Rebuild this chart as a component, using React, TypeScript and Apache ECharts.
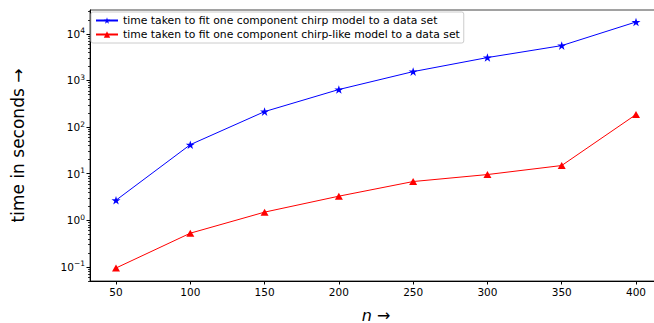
import { useEffect, useRef } from "react";
import * as echarts from "echarts";

// Problem sizes (number of samples n)
const sampleSizes = [50, 100, 150, 200, 250, 300, 350, 400];
// Seconds needed to fit a one-component chirp model
const chirpSeconds = [2.7, 42, 215, 640, 1550, 3100, 5600, 18000];
// Seconds needed to fit a one-component chirp-like model
const chirpLikeSeconds = [0.095, 0.53, 1.5, 3.3, 6.8, 9.6, 15, 186];

const seriesNames = [
  "time taken to fit one component chirp model to a data set",
  "time taken to fit one component chirp-like model to a data set",
];

const xTickValues = [50, 100, 150, 200, 250, 300, 350, 400];
const yMajorTickValues = [0.1, 1, 10, 100, 1000, 10000];

// minor log ticks: 2..9 × 10^k inside the visible range
const yMin = 0.05;
const yMax = 32500;
const yMinorTickValues: number[] = [];
for (let k = -2; k <= 4; k++) {
  for (let m = 2; m <= 9; m++) {
    const v = m * Math.pow(10, k);
    if (v >= yMin && v <= yMax) yMinorTickValues.push(v);
  }
}

const FONT = "DejaVu Sans";
const STAR =
  "path://M0,-10 L2.245,-3.09 L9.51,-3.09 L3.633,1.18 L5.88,8.09 L0,3.82 L-5.88,8.09 L-3.633,1.18 L-9.51,-3.09 L-2.245,-3.09 Z";

function powerLabel(value: number): string {
  const exp = Math.round(Math.log10(value));
  const txt = exp < 0 ? "\u2212" + Math.abs(exp) : String(exp);
  return "{b|10}{s|" + txt + "}";
}

export default function App() {
  const ref = useRef<HTMLDivElement>(null);

  useEffect(() => {
    if (!ref.current) return;
    const chart = echarts.init(ref.current, undefined, { renderer: "svg" });

    const pairs = (ys: number[]) => sampleSizes.map((x, i) => [x, ys[i]]);

    chart.setOption({
      animation: false,
      backgroundColor: "#ffffff",
      grid: {
        left: 90,
        top: 10,
        width: 572,
        height: 271,
        outerBoundsMode: "none",
        containLabel: false,
        show: true,
        borderColor: "#444",
        borderWidth: 1,
        backgroundColor: "transparent",
      },
      legend: {
        orient: "vertical",
        left: 91,
        top: 12,
        padding: [3, 4, 3, 4],
        itemGap: 3,
        itemWidth: 22,
        itemHeight: 8,
        itemTextGap: 9,
        backgroundColor: "rgba(255,255,255,0.8)",
        borderColor: "#cccccc",
        borderWidth: 1,
        borderRadius: 2,
        textStyle: { fontFamily: FONT, fontSize: 10.8, color: "#000" },
        data: seriesNames,
      },
      xAxis: {
        type: "value",
        min: 32.5,
        max: 417.5,
        splitNumber: 8,
        name: "{i|n}{a| \u2192}",
        nameLocation: "middle",
        nameGap: 26,
        nameTextStyle: {
          rich: {
            i: { fontFamily: FONT, fontSize: 16, fontStyle: "italic", color: "#000" },
            a: { fontFamily: FONT, fontSize: 16, color: "#000" },
          },
        },
        splitLine: { show: false },
        axisLine: { show: true, onZero: false, lineStyle: { color: "#000", width: 1 } },
        axisTick: {
          show: true,
          inside: false,
          length: 3.5,
          customValues: xTickValues,
          lineStyle: { color: "#000", width: 1 },
        },
        axisLabel: {
          customValues: xTickValues,
          fontFamily: FONT,
          fontSize: 10.5,
          color: "#000",
          margin: 5,
        },
      },
      yAxis: [
        {
          type: "log",
          logBase: 10,
          min: yMin,
          max: yMax,
          name: "time in seconds \u2192",
          nameLocation: "middle",
          nameGap: 64,
          nameTextStyle: { fontFamily: FONT, fontSize: 17, color: "#000" },
          splitLine: { show: false },
          axisLine: { show: true, onZero: false, lineStyle: { color: "#000", width: 1 } },
          axisTick: {
            show: true,
            length: 3.5,
            customValues: yMajorTickValues,
            lineStyle: { color: "#000", width: 1 },
          },
          axisLabel: {
            customValues: yMajorTickValues,
            margin: 5,
            formatter: (v: number) => powerLabel(v),
            rich: {
              b: { fontFamily: FONT, fontSize: 10.5, color: "#000" },
              s: { fontFamily: FONT, fontSize: 7.5, color: "#000", padding: [0, 0, 6, 0] },
            },
          },
        },
        {
          type: "log",
          logBase: 10,
          min: yMin,
          max: yMax,
          position: "left",
          splitLine: { show: false },
          axisLine: { show: false },
          axisLabel: { show: false },
          axisTick: {
            show: true,
            length: 2,
            customValues: yMinorTickValues,
            lineStyle: { color: "#000", width: 0.8 },
          },
        },
      ],
      series: [
        {
          name: seriesNames[0],
          type: "line",
          data: pairs(chirpSeconds),
          color: "#0000ff",
          symbol: STAR,
          symbolSize: 9,
          symbolKeepAspect: true,
          lineStyle: { color: "#0000ff", width: 1 },
          itemStyle: { color: "#0000ff" },
        },
        {
          name: seriesNames[1],
          type: "line",
          data: pairs(chirpLikeSeconds),
          color: "#ff0000",
          symbol: "triangle",
          symbolSize: [8, 7],
          lineStyle: { color: "#ff0000", width: 1 },
          itemStyle: { color: "#ff0000" },
        },
      ],
    });

    return () => chart.dispose();
  }, []);

  return (
    <div
      ref={ref}
      style={{ position: "absolute", left: 0, top: 0, width: 654, height: 323 }}
    />
  );
}
